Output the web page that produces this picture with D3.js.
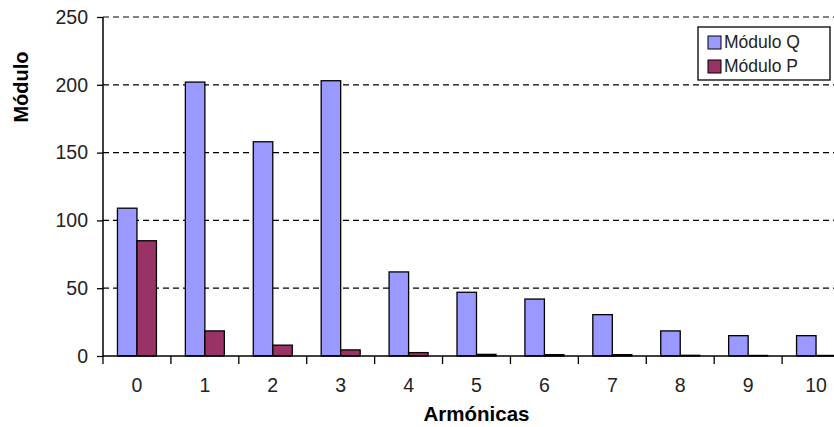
<!DOCTYPE html>
<html>
<head>
<meta charset="utf-8">
<script src="https://cdn.jsdelivr.net/npm/d3@7"></script>
<style>
  body { margin: 0; background: #fff; }
  svg { display: block; font-family: "Liberation Sans", Arial, sans-serif; }
</style>
</head>
<body>
<div id="chart"></div>
<script>
// data
var armonicas = ["0", "1", "2", "3", "4", "5", "6", "7", "8", "9", "10"];
var moduloQ = [109, 202, 158, 203, 62, 47, 42, 30.5, 18.5, 15, 15];
var moduloP = [85, 18.5, 8, 4.5, 2.5, 1.2, 1, 1, 0.5, 0.4, 0.4];
var series = ["Módulo Q", "Módulo P"];
var colors = ["#9999ff", "#993366"];
var yTicks = [0, 50, 100, 150, 200, 250];

var W = 834, H = 427;
var margin = {top: 17, left: 103, bottom: 71};
var plotBottom = H - margin.bottom;

var svg = d3.select("#chart").append("svg")
  .attr("width", W)
  .attr("height", H);

// x band runs a little past the right edge, like the cropped original
var x = d3.scaleBand()
  .domain(armonicas)
  .range([margin.left, 850])
  .padding(0);

var inner = d3.scaleBand()
  .domain(series)
  .range([0, 39])
  .padding(0);

var y = d3.scaleLinear()
  .domain([0, 250])
  .range([plotBottom, margin.top]);

// dashed grid
svg.append("g")
  .selectAll("line")
  .data(yTicks.filter(function(d) { return d > 0; }))
  .enter().append("line")
    .attr("x1", margin.left)
    .attr("x2", W)
    .attr("y1", function(d) { return y(d); })
    .attr("y2", function(d) { return y(d); })
    .attr("stroke", "#000")
    .attr("stroke-width", 1.2)
    .attr("stroke-dasharray", "6,4");

// bars
var rows = armonicas.map(function(a, i) {
  return [{k: series[0], v: moduloQ[i], a: a}, {k: series[1], v: moduloP[i], a: a}];
});
var off = (x.bandwidth() - 39) / 2;

svg.append("g")
  .selectAll("g")
  .data(rows)
  .enter().append("g")
    .attr("transform", function(d) { return "translate(" + (x(d[0].a) + off) + ",0)"; })
  .selectAll("rect")
  .data(function(d) { return d; })
  .enter().append("rect")
    .attr("x", function(d) { return inner(d.k); })
    .attr("y", function(d) { return y(d.v); })
    .attr("width", inner.bandwidth())
    .attr("height", function(d) { return plotBottom - y(d.v); })
    .attr("fill", function(d, i) { return colors[i]; })
    .attr("stroke", "#000")
    .attr("stroke-width", 1.3);

// y axis
var yAxis = svg.append("g")
  .attr("transform", "translate(" + margin.left + ",0)")
  .call(d3.axisLeft(y).tickValues(yTicks).tickSize(6).tickPadding(9));
yAxis.select(".domain").attr("stroke-width", 1.5).attr("d", "M0," + margin.top + "V" + plotBottom);
yAxis.selectAll(".tick line").attr("stroke-width", 1.3);
yAxis.selectAll("text").attr("font-size", 19.5).attr("fill", "#222").attr("font-family", "Liberation Sans, Arial, sans-serif");

// x axis, ticks sit between categories
var xa = svg.append("g").attr("transform", "translate(0," + plotBottom + ")");
xa.append("line")
  .attr("x1", margin.left).attr("x2", W)
  .attr("stroke", "#000").attr("stroke-width", 1.5);
var bounds = armonicas.map(function(a) { return x(a); });
xa.selectAll(".xt")
  .data(bounds)
  .enter().append("line")
    .attr("class", "xt")
    .attr("x1", function(d) { return d; })
    .attr("x2", function(d) { return d; })
    .attr("y1", 0).attr("y2", 8)
    .attr("stroke", "#000").attr("stroke-width", 1.3);
xa.selectAll(".xl")
  .data(armonicas)
  .enter().append("text")
    .attr("class", "xl")
    .attr("x", function(d) { return x(d) + x.bandwidth() / 2; })
    .attr("y", 36)
    .attr("text-anchor", "middle")
    .attr("font-size", 19.5)
    .attr("fill", "#222")
    .text(function(d) { return d; });

// axis titles, x title centred on the full plot width
svg.append("text")
  .attr("x", (margin.left + 850) / 2).attr("y", 421)
  .attr("text-anchor", "middle")
  .attr("font-size", 20.5).attr("font-weight", "bold")
  .text("Armónicas");

svg.append("text")
  .attr("transform", "translate(28,87) rotate(-90)")
  .attr("text-anchor", "middle")
  .attr("font-size", 20).attr("font-weight", "bold")
  .text("Módulo");

// legend
var lg = svg.append("g").attr("transform", "translate(698,27)");
lg.append("rect")
  .attr("width", 132).attr("height", 53)
  .attr("fill", "#fff").attr("stroke", "#000").attr("stroke-width", 1.3);
series.forEach(function(s, i) {
  var row = lg.append("g").attr("transform", "translate(10," + (15 + i * 24) + ")");
  row.append("rect")
    .attr("x", 0).attr("y", -6)
    .attr("width", 13).attr("height", 13)
    .attr("fill", colors[i]).attr("stroke", "#000").attr("stroke-width", 1);
  row.append("text")
    .attr("x", 16).attr("y", 6)
    .attr("font-size", 17.5).attr("fill", "#222")
    .text(s);
});
</script>
</body>
</html>
